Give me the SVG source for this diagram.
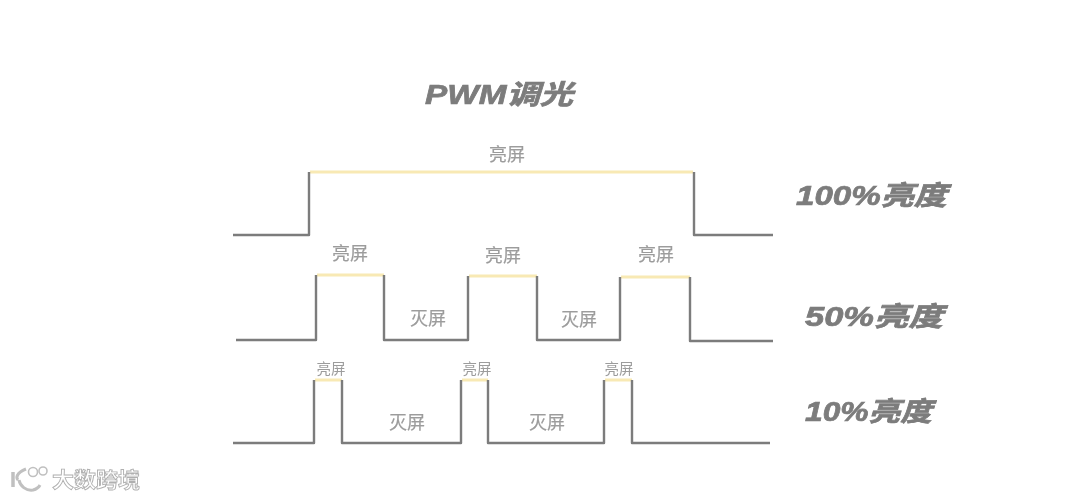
<svg xmlns="http://www.w3.org/2000/svg" width="1080" height="500" viewBox="0 0 1080 500">
<defs>
<filter id="b" x="-5%" y="-10%" width="110%" height="120%"><feGaussianBlur stdDeviation="0.6"/></filter>
<filter id="bl" filterUnits="userSpaceOnUse" x="0" y="0" width="1080" height="500"><feGaussianBlur stdDeviation="0.6"/></filter>
</defs>
<style>
text{font-family:"Liberation Sans","Noto Sans CJK SC",sans-serif}
.sig{fill:none;stroke:#7c7c7c;stroke-width:2.4;stroke-linejoin:round}
.hi{fill:none;stroke:#f8e9b4;stroke-width:3}
.lb{font-size:18px;fill:#9c9c9c;text-anchor:middle;stroke:#9c9c9c;stroke-width:.2}
.sm{font-size:14.5px;fill:#9c9c9c;text-anchor:middle}
.h{font-weight:700;font-style:italic;fill:#7c7c7c;font-size:27px;stroke:#7c7c7c;stroke-width:.7}
.wm{font-size:21px;font-weight:700;fill:#fff;stroke:#b0b0b0;stroke-width:.9}
</style>
<rect width="1080" height="500" fill="#fff"/>
<g id="connectors" filter="url(#bl)">
<path class="hi" d="M310 172H693"/>
<path class="hi" d="M317 275H384M469 276H537M621 277H690"/>
<path class="hi" d="M315 380H342M462 380H488M605 380H632"/>
<path class="sig" d="M233 235H309V172M694 172V235H773"/>
<path class="sig" d="M236 340H316V275M384 275V340H468V276M537 276V340H620V277M690 277V341H773"/>
<path class="sig" d="M233 443H314V380M342 380V443H461V380M488 380V443H604V380M632 380V443H770"/>
</g>
<g id="title" filter="url(#b)"><text class="h" x="425" y="104" textLength="148" lengthAdjust="spacingAndGlyphs">PWM调光</text></g>
<g id="row-100" filter="url(#b)">
<text class="lb" x="507" y="161">亮屏</text>
<text class="h" x="796" y="205" textLength="151" lengthAdjust="spacingAndGlyphs">100%亮度</text>
</g>
<g id="row-50" filter="url(#b)">
<text class="lb" x="350" y="260">亮屏</text>
<text class="lb" x="503" y="262">亮屏</text>
<text class="lb" x="656" y="261">亮屏</text>
<text class="lb" x="428" y="325">灭屏</text>
<text class="lb" x="579" y="326">灭屏</text>
<text class="h" x="805" y="326" textLength="138" lengthAdjust="spacingAndGlyphs">50%亮度</text>
</g>
<g id="row-10" filter="url(#b)">
<text class="sm" x="331" y="374">亮屏</text>
<text class="sm" x="477" y="374">亮屏</text>
<text class="sm" x="619" y="374">亮屏</text>
<text class="lb" x="407" y="429">灭屏</text>
<text class="lb" x="547" y="429">灭屏</text>
<text class="h" x="805" y="421" textLength="127" lengthAdjust="spacingAndGlyphs">10%亮度</text>
</g>
<g id="watermark" filter="url(#bl)">
<path d="M13 472V487" fill="none" stroke="#c0c0c0" stroke-width="3.5"/>
<path d="M26 469C16 473 16 478 18 480M19 480C20 486 26 491 33 490C37 489 39 487 40 485" fill="none" stroke="#c0c0c0" stroke-width="3"/>
<circle cx="33" cy="472" r="4.5" fill="none" stroke="#c0c0c0" stroke-width="1.6"/>
<circle cx="43" cy="471" r="4" fill="none" stroke="#c0c0c0" stroke-width="1.6"/>
<text class="wm" x="52" y="487" textLength="88" lengthAdjust="spacingAndGlyphs">大数跨境</text>
</g>
</svg>
